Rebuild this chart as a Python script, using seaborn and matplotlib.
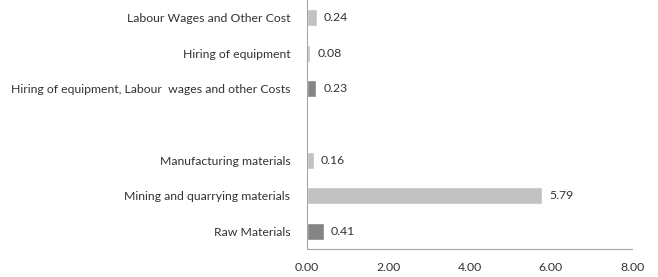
import pandas as pd
import matplotlib.pyplot as plt
import seaborn as sns

# ---------------- dados ----------------
categorias = [
    "Labour Wages and Other Cost",
    "Hiring of equipment",
    "Hiring of equipment, Labour  wages and other Costs",
    "",
    "Manufacturing materials",
    "Mining and quarrying materials",
    "Raw Materials",
]
valores = [0.24, 0.08, 0.23, None, 0.16, 5.79, 0.41]
grupos = ["parte", "parte", "total", None, "parte", "parte", "total"]
ticks_x = [0, 2, 4, 6, 8]

cores = {"parte": "#c2c2c2", "total": "#858585"}

df = pd.DataFrame({"categoria": categorias, "valor": valores, "grupo": grupos}).dropna()

sns.set_style("white")
plt.rcParams["font.family"] = ["Lato", "DejaVu Sans"]

fig = plt.figure(figsize=(6.58, 2.77), dpi=100)
ax = fig.add_axes([0.4666, 0.101, 0.4939, 0.899])

sns.barplot(data=df, x="valor", y="categoria", hue="grupo", order=categorias,
            palette=cores, dodge=False, width=0.48, legend=False, ax=ax)

for cont in ax.containers:
    ax.bar_label(cont, fmt="%.2f", padding=5, fontsize=8.8, color="#333333")

ax.set_xlim(0, 8)
ax.set_ylim(len(categorias) - 0.5, -0.5)
ax.set_xticks(ticks_x)
ax.set_xticklabels([f"{t:.2f}" for t in ticks_x])
ax.set_xlabel("")
ax.set_ylabel("")
ax.tick_params(axis="y", length=0, pad=12, labelsize=8.8, labelcolor="#333333")
ax.tick_params(axis="x", length=0, pad=9, labelsize=8.8, labelcolor="#333333")

for lado in ["top", "right"]:
    ax.spines[lado].set_visible(False)
for lado in ["left", "bottom"]:
    ax.spines[lado].set_color("#a6a6a6")
    ax.spines[lado].set_linewidth(0.8)

fig.savefig("out.png", dpi=100)
